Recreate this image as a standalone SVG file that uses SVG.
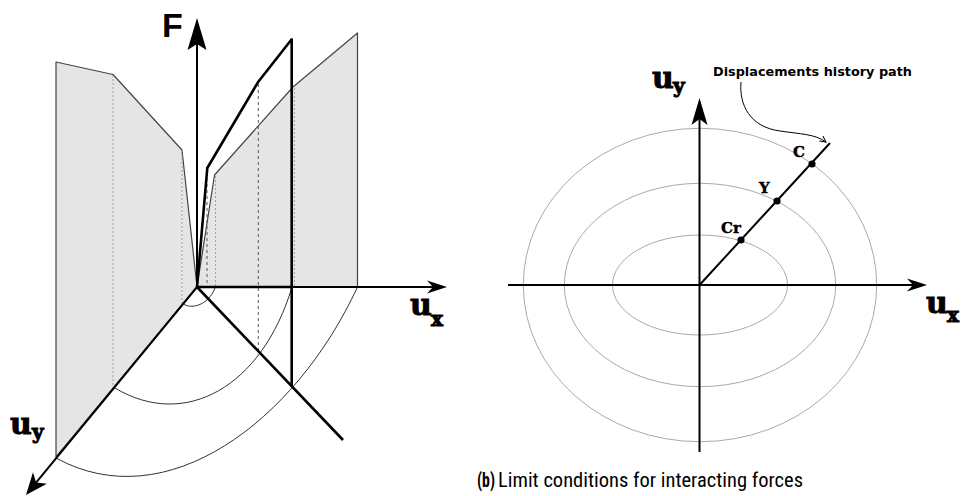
<svg xmlns="http://www.w3.org/2000/svg" width="964" height="496" viewBox="0 0 964 496">
<style>
.plane{fill:#e5e5e5;stroke:#444;stroke-width:1.2;stroke-linejoin:round}
.ax{stroke:#000;stroke-width:2;fill:none}
.thick{stroke:#000;stroke-width:2.6;fill:none;stroke-linejoin:round}
.arc{stroke:#333;stroke-width:1;fill:none}
.dotL{stroke:#999;stroke-width:0.9;stroke-dasharray:2 2;fill:none}
.dotD{stroke:#555;stroke-width:1;stroke-dasharray:3 3;fill:none}
.ell{stroke:#aaa;stroke-width:1;fill:none}
.ulab{font-family:"DejaVu Serif",serif;font-weight:bold;font-size:30px;fill:#000;stroke:#000;stroke-width:1}
.sub{font-size:20px}
.pt{font-family:"DejaVu Serif",serif;font-weight:bold;font-size:15px;fill:#000;stroke:#000;stroke-width:0.4}
.ann{font-family:"DejaVu Sans",sans-serif;font-weight:bold;font-size:12.8px;fill:#000}
.cap{font-family:"Liberation Sans Narrow","Roboto Condensed","Liberation Sans",sans-serif;font-size:20px;fill:#000}
</style>
<defs>
<marker id="ah" markerUnits="userSpaceOnUse" viewBox="-21 -7 22 14" markerWidth="22" markerHeight="14" refX="-12" refY="0" orient="auto">
<path d="M0,0 L-20,-6.5 L-14,0 L-20,6.5 Z" fill="#000"/>
</marker>
<marker id="ahM" markerUnits="userSpaceOnUse" viewBox="-28 -9 29 18" markerWidth="29" markerHeight="18" refX="-16" refY="0" orient="auto">
<path d="M0,0 L-27,-8 L-21,0 L-27,8 Z" fill="#000"/>
</marker>
<marker id="ahY" markerUnits="userSpaceOnUse" viewBox="-23 -10 24 20" markerWidth="24" markerHeight="20" refX="-12" refY="0" orient="auto">
<path d="M0,0 L-22,-9 L-16,0 L-22,9 Z" fill="#000"/>
</marker>
<marker id="ahF" markerUnits="userSpaceOnUse" viewBox="-33 -10 34 20" markerWidth="34" markerHeight="20" refX="-20" refY="0" orient="auto">
<path d="M0,0 L-32,-9.5 L-26,0 L-32,9.5 Z" fill="#000"/>
</marker>
<marker id="open" markerUnits="userSpaceOnUse" viewBox="-7 -4 8 8" markerWidth="8" markerHeight="8" refX="0" refY="0" orient="auto">
<path d="M-6,-3 L0,0 L-6,3" fill="none" stroke="#000" stroke-width="1"/>
</marker>
</defs>

<g id="panel-a">
<g id="plane-uy">
<polygon class="plane" points="56,62 113,74.5 182,150 197,287 56,457"/>
<line class="dotL" x1="113" y1="75" x2="113" y2="387"/>
<line class="dotL" x1="182" y1="150" x2="182" y2="304"/>
</g>
<g id="plane-ux">
<polygon class="plane" points="197,287 214.5,175 293,87 357.5,33 357.5,287"/>
<line class="dotL" x1="215.5" y1="176" x2="215.5" y2="287"/>
<line class="dotL" x1="294.5" y1="88" x2="294.5" y2="287"/>
</g>
<g id="arcs">
<path class="arc" d="M182,303 C190,310 208,306 215,288"/>
<path class="arc" d="M115,388 C185,430 262,387 292,287"/>
<path class="arc" d="M56,458 C166,518.5 295,422 357.5,287"/>
</g>
<g id="diag-path">
<line class="dotD" x1="207" y1="172" x2="207" y2="287"/>
<line class="dotD" x1="258.3" y1="84" x2="258.3" y2="350"/>
<line class="thick" x1="197" y1="287" x2="343" y2="440"/>
<polyline class="thick" points="197,287 207.3,168 258.3,81.7 291.7,39.3 291.7,387"/>
<line class="thick" x1="197" y1="287" x2="291.7" y2="287"/>
</g>
<g id="axes-a">
<line class="ax" x1="197" y1="287" x2="197" y2="38" marker-end="url(#ahF)"/>
<line class="ax" x1="197" y1="287" x2="435" y2="287" stroke-width="1.5" marker-end="url(#ah)"/>
<line class="ax" x1="197" y1="287" x2="33.6" y2="485.7" marker-end="url(#ahY)"/>
</g>
<g id="labels-a">
<text x="162" y="37" font-family="Liberation Sans, sans-serif" font-weight="bold" font-size="34">F</text>
<text class="ulab"><tspan x="410" y="315">u</tspan><tspan class="sub" x="431" y="326">x</tspan></text>
<text class="ulab"><tspan x="10" y="434">u</tspan><tspan class="sub" x="32" y="439">y</tspan></text>
</g>
</g>

<g id="panel-b">
<g id="ellipses">
<ellipse class="ell" cx="700" cy="285" rx="176.7" ry="156.7"/>
<ellipse class="ell" cx="700" cy="285" rx="135.7" ry="101.7"/>
<ellipse class="ell" cx="700" cy="285" rx="87.5" ry="50"/>
</g>
<g id="axes-b">
<line class="ax" x1="508" y1="285" x2="915" y2="285" marker-end="url(#ah)"/>
<line class="ax" x1="699.5" y1="452" x2="699.5" y2="114" marker-end="url(#ahM)"/>
</g>
<g id="history-path">
<line class="ax" x1="699.5" y1="285" x2="830" y2="143"/>
</g>
<g id="node-Cr"><circle cx="741" cy="240" r="3.6"/><text class="pt" x="721" y="233">Cr</text></g>
<g id="node-Y"><circle cx="777" cy="201" r="3.6"/><text class="pt" x="759" y="193">Y</text></g>
<g id="node-C"><circle cx="812" cy="164" r="3.6"/><text class="pt" x="793" y="157">C</text></g>
<g id="annotation">
<text class="ann" x="713" y="76" textLength="199" lengthAdjust="spacingAndGlyphs">Displacements history path</text>
<path d="M741,82 C739,105 750,127 780,131 C800,134 815,134 826,142" fill="none" stroke="#000" stroke-width="1" marker-end="url(#open)"/>
</g>
<g id="labels-b">
<text class="ulab"><tspan x="652" y="88">u</tspan><tspan class="sub" x="673" y="93">y</tspan></text>
<text class="ulab"><tspan x="926" y="313">u</tspan><tspan class="sub" x="947" y="322">x</tspan></text>
</g>
</g>

<g id="caption">
<text class="cap" x="477" y="487" font-weight="bold" textLength="18" lengthAdjust="spacingAndGlyphs">(b)</text>
<text class="cap" x="498" y="487" textLength="305" lengthAdjust="spacingAndGlyphs">Limit conditions for interacting forces</text>
</g>
</svg>
